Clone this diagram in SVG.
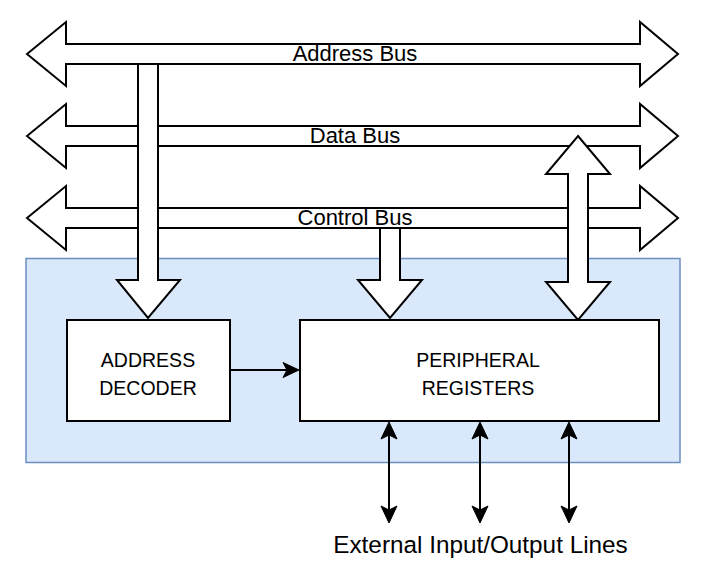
<svg xmlns="http://www.w3.org/2000/svg" width="710" height="583" viewBox="0 0 710 583">
<defs>
<style>
.blk{fill:#ffffff;stroke:#000000;stroke-width:2;stroke-linejoin:miter}
.box{fill:#ffffff;stroke:#000000;stroke-width:2}
.t{font-family:"Liberation Sans",Arial,sans-serif;fill:#000000;text-anchor:middle}
.bus{font-size:22px}
.lbl{font-size:19.5px}
.ln{stroke:#000000;stroke-width:2;fill:none}
.hd{fill:#000000;stroke:#000000;stroke-width:1}
</style>
</defs>
<rect id="container" x="26" y="258.5" width="654" height="204" fill="#dae8fc" stroke="#6c8ebf" stroke-width="1.5"/>
<g id="address-bus">
<polygon class="blk" points="27,54 66,22 66,44 640,44 640,22 678,54 640,86 640,64 66,64 66,86"/>
<text class="t bus" x="355" y="61">Address Bus</text>
</g>
<g id="data-bus">
<polygon class="blk" points="27,136 66,104 66,126 640,126 640,104 678,136 640,168 640,146 66,146 66,168"/>
<text class="t bus" x="355" y="143">Data Bus</text>
</g>
<g id="control-bus">
<polygon class="blk" points="27,218 66,186 66,208 640,208 640,186 678,218 640,250 640,228 66,228 66,250"/>
<text class="t bus" x="355" y="225">Control Bus</text>
</g>
<g id="connectors">
<polygon class="blk" points="138,64 158,64 158,280 180,280 148,318 117,280 138,280"/>
<polygon class="blk" points="380,228 400,228 400,280 422,280 390,318 358,280 380,280"/>
<polygon class="blk" points="578,136 610,174 588,174 588,282 610,282 578,320 546,282 568,282 568,174 546,174"/>
<line class="ln" x1="231" y1="370" x2="290" y2="370"/>
<path class="hd" d="M299,370 L283,362.5 L287,370 L283,377.5 Z"/>
<line class="ln" x1="389" y1="432" x2="389" y2="512"/>
<path class="hd" d="M389,422 L381,439 L389,435 L397,439 Z"/>
<path class="hd" d="M389,523 L381,506 L389,510 L397,506 Z"/>
<line class="ln" x1="480" y1="432" x2="480" y2="512"/>
<path class="hd" d="M480,422 L472,439 L480,435 L488,439 Z"/>
<path class="hd" d="M480,523 L472,506 L480,510 L488,506 Z"/>
<line class="ln" x1="569" y1="432" x2="569" y2="512"/>
<path class="hd" d="M569,422 L561,439 L569,435 L577,439 Z"/>
<path class="hd" d="M569,523 L561,506 L569,510 L577,506 Z"/>
</g>
<g id="address-decoder">
<rect class="box" x="67" y="320" width="163" height="101"/>
<text class="t lbl" x="148" y="367">ADDRESS</text>
<text class="t lbl" x="148" y="395">DECODER</text>
</g>
<g id="peripheral-registers">
<rect class="box" x="300" y="320" width="359" height="101"/>
<text class="t lbl" x="478" y="367">PERIPHERAL</text>
<text class="t lbl" x="478" y="395">REGISTERS</text>
</g>
<text id="io-label" class="t" font-size="24.3" x="480.5" y="553">External Input/Output Lines</text>
</svg>
